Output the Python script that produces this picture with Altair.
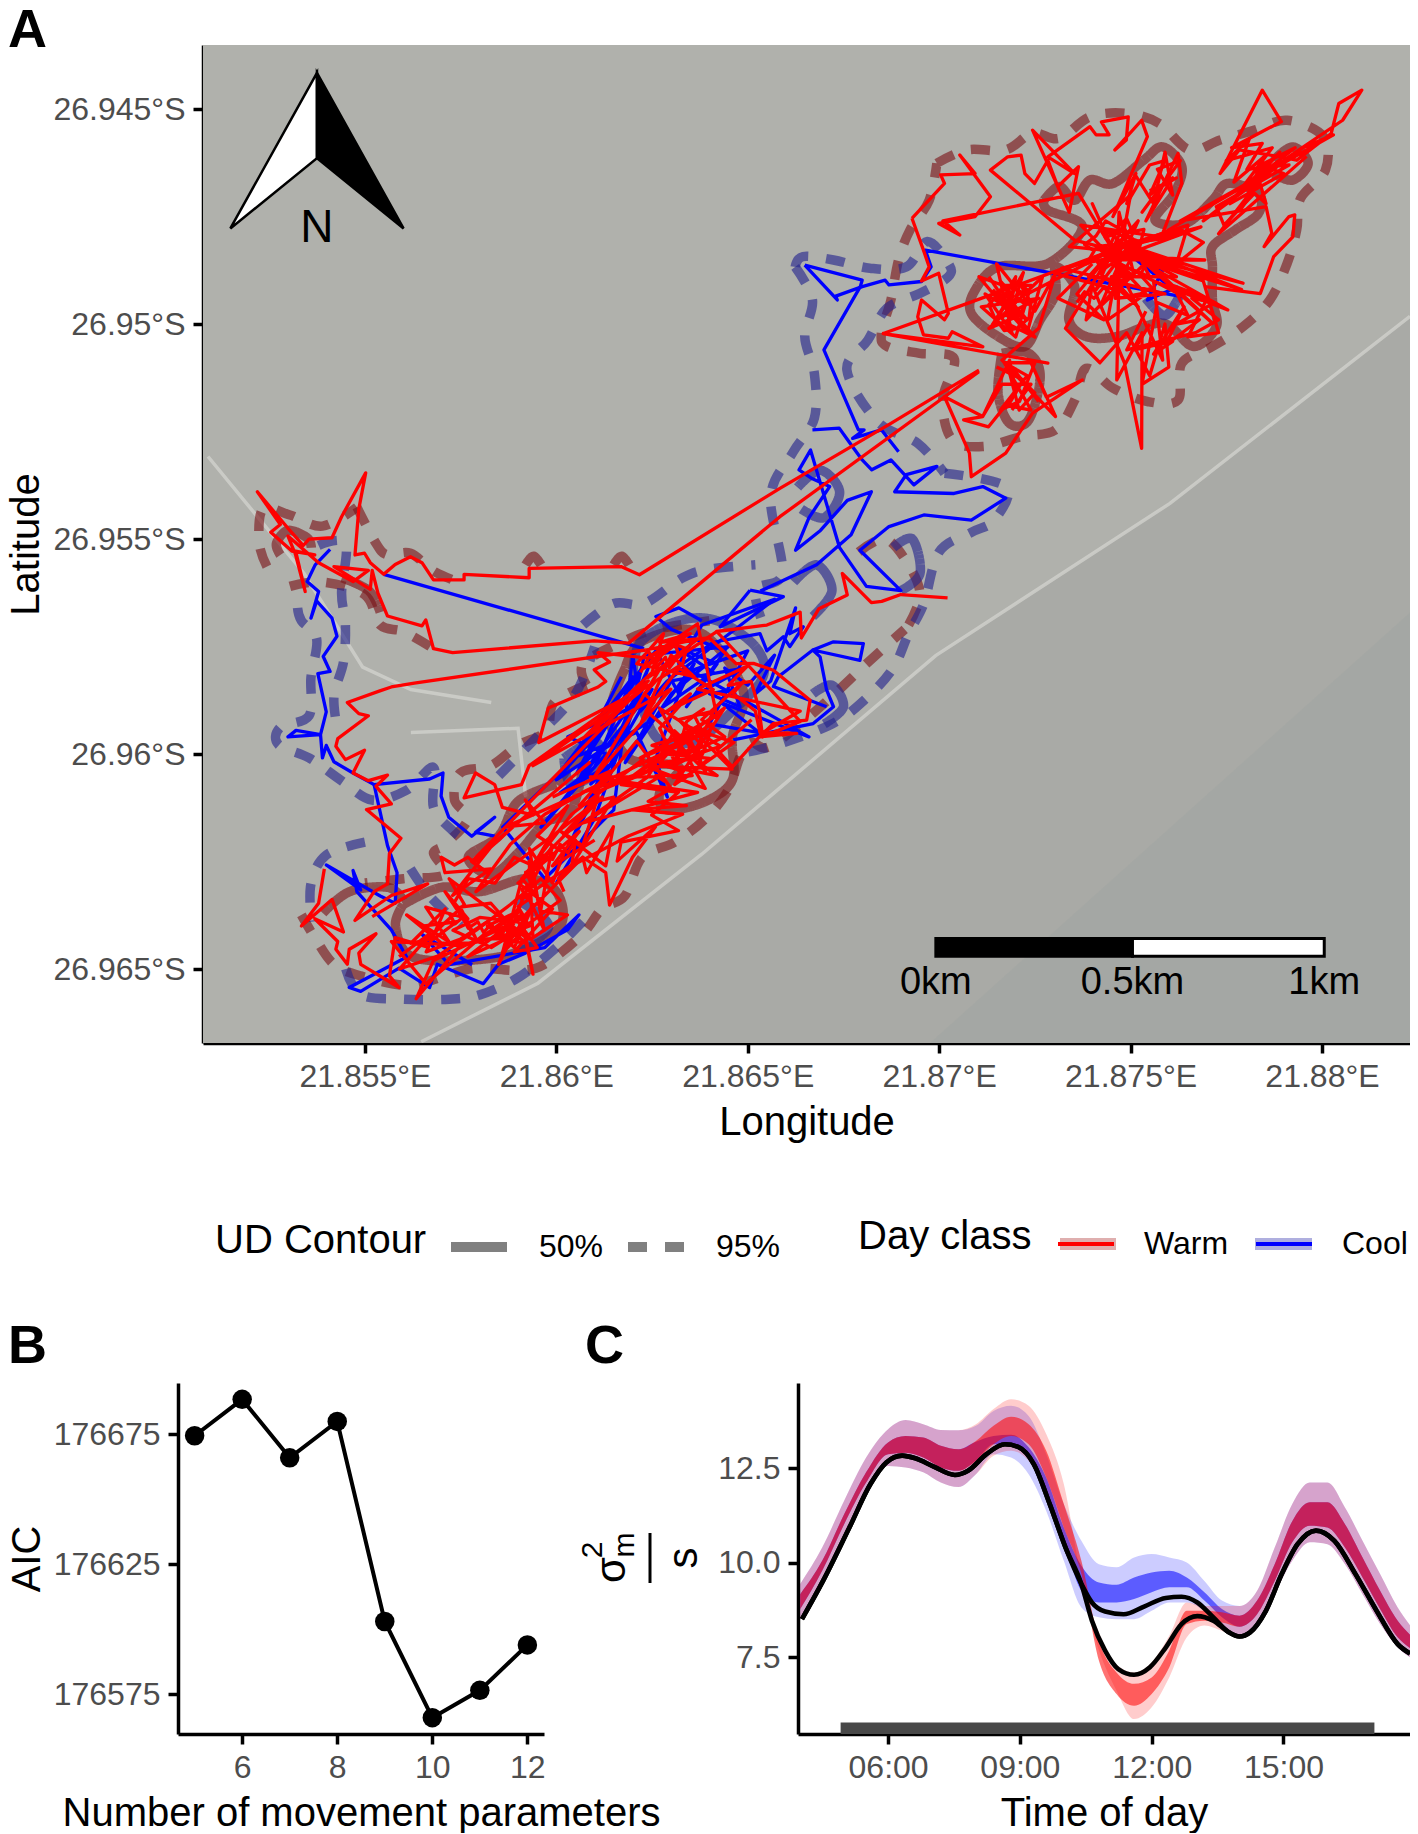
import altair as alt
import pandas as pd

FONT = "Liberation Sans"
LON0, LAT0 = 21.85, 26.94  # map values below are thousandths of a degree east of LON0 / south of LAT0

# ---------- map tracks ----------
warm_west = [(21.04,11.07),(18.74,12.31),(15.84,13.82),(12.17,15.83),(11.69,15.64),(9.29,15.68),(9.29,15.9),(7.59,15.82),(7.59,15.95),(6.79,15.95),(6.49,15.55),(6.19,15.41),(5.79,15.59),(5.49,15.82),(5.14,15.55),(4.99,15.33),(4.74,15.37),(4.84,14.3),(5.02,13.46),(4.39,14.48),(4.14,14.97),(3.54,15.0),(3.39,15.15),(2.99,14.75),(2.19,13.9),(2.79,14.66),(2.54,14.84),(3.09,15.28),(3.69,15.37),(3.19,15.28),(3.44,16.22),(3.19,15.37),(2.99,14.93),(3.79,15.55),(4.69,15.99),(5.09,15.73),(4.19,15.64),(5.14,16.17),(5.19,15.73),(5.34,16.26),(5.59,16.79),(6.49,17.02),(6.59,16.88),(6.79,17.55),(7.29,17.64),(10.99,17.37),(11.89,17.42),(15.84,14.48),(21.04,11.11)]
warm_mid = [(12.34,17.58),(11.09,17.73),(6.29,18.35),(5.69,18.44),(5.39,18.53),(4.54,18.8),(4.84,19.06),(5.09,19.11),(4.29,19.64),(4.24,19.82),(4.49,20.13),(4.99,19.91),(4.69,20.44),(5.09,20.62),(5.59,20.49),(5.29,20.75),(5.69,21.16),(5.04,21.29),(5.94,21.96),(5.64,22.31),(5.59,23.02),(5.24,23.2),(4.74,23.87),(5.69,23.29),(6.64,23.02),(5.19,23.78)]
warm_sw = [(3.94,22.67),(3.79,23.47),(3.34,24.0),(4.14,23.38),(4.44,24.14),(3.69,23.83),(4.29,24.36),(4.24,24.54),(4.54,24.89),(4.59,24.54),(5.29,24.18),(4.84,24.63),(4.89,24.89),(5.89,25.43),(5.64,25.16),(5.79,24.27),(6.69,24.5)]
warm_south = [(5.89,24.71),(6.69,24.18),(6.09,23.74),(7.19,24.36),(6.59,23.56),(7.69,23.83),(7.09,23.2),(7.89,24.27),(7.49,23.56),(8.29,23.47),(8.99,24.18),(7.69,24.71),(9.09,23.74),(9.39,25.12),(9.14,24.1),(8.69,24.54),(8.49,24.89),(9.19,23.2),(9.69,24.1),(9.29,22.49),(9.39,24.27),(10.29,23.74),(9.59,23.65),(9.89,22.14),(9.09,23.38),(10.69,22.4),(9.09,23.83),(6.79,24.8),(6.34,25.69),(7.49,24.45),(5.69,24.36),(6.59,25.34),(7.59,24.6),(8.1,24.2),(8.7,24.0),(9.3,24.3),(8.4,23.7),(7.2,22.9),(7.6,23.5),(7.0,24.0),(6.4,24.5),(5.9,25.0),(6.9,24.7),(7.9,24.1),(8.8,23.5),(9.6,22.9),(10.1,23.4),(9.2,24.0),(8.3,24.5),(7.3,24.1),(8.0,23.8),(9.0,23.9),(9.5,24.5),(8.9,24.6),(9.9,23.6),(9.0,23.0),(9.7,22.5),(10.6,21.8),(9.9,22.6),(11.0,22.0)]
warm_south2 = [(8.4,24.1),(8.9,23.7),(8.2,24.0),(8.8,24.3),(8.0,24.3),(8.6,23.9),(9.2,24.4),(8.5,24.3),(9.0,23.6),(9.3,24.0),(8.7,24.2),(7.8,24.4),(7.0,24.4),(6.5,24.0),(7.4,23.9),(6.8,24.3),(6.2,24.4),(7.1,23.6),(6.6,24.6),(7.5,24.3),(8.2,23.9),(8.9,24.5),(9.4,23.5),(8.6,24.6),(9.1,22.9),(9.5,23.3),(9.3,22.2),(9.9,23.0),(10.2,22.3),(9.5,21.9),(10.3,21.2),(9.4,22.6),(8.9,22.4),(8.4,23.0),(7.7,22.9),(7.3,23.5)]
warm_south3 = [(7.2,23.7),(7.35,23.95),(7.55,23.8),(7.7,24.05),(7.95,23.9),(8.1,24.15),(8.3,23.95),(8.45,24.2),(8.65,24.05),(8.85,24.25),(9.05,24.05),(9.2,23.85),(9.0,23.55),(9.25,23.4),(9.1,23.15),(9.35,23.0),(9.2,22.75),(9.5,22.65),(9.65,22.35),(9.9,22.45),(10.1,22.1),(10.3,22.3),(10.5,22.0),(10.4,22.6),(10.05,22.9),(10.2,23.2)]
warm_centre = [(12.34,17.58),(13.69,17.33),(12.39,18.22),(14.19,17.15),(12.69,18.04),(10.99,20.53),(12.99,18.49),(9.39,20.27),(12.39,18.4),(10.69,19.64),(11.69,18.75),(9.54,19.73),(9.79,18.93),(11.09,18.44),(11.29,18.31),(10.99,18.04),(11.39,17.86),(11.09,17.64),(12.39,17.77),(13.69,16.97),(14.19,19.11),(12.19,20.09),(13.99,19.46),(10.69,20.89),(14.29,19.82),(12.69,18.93),(13.89,20.8),(12.29,20.27),(14.59,20.35),(13.49,19.38),(14.64,19.73),(13.09,20.71),(14.39,18.93),(11.69,20.71),(13.19,20.89),(12.49,21.42),(13.19,21.78),(11.69,22.05),(11.59,22.49),(12.59,21.69),(11.99,22.4),(11.39,23.51),(11.29,22.76),(10.69,22.4),(10.79,22.76),(11.49,21.69),(11.29,22.6),(10.09,21.78),(10.69,22.13),(11.09,20.98),(10.19,21.87),(12.69,20.53),(10.89,20.53),(13.69,20.89),(10.69,21.6),(12.39,20.53),(13.09,19.46),(13.6,19.9),(12.9,20.0),(14.0,20.1),(13.3,20.6),(12.7,19.4),(13.5,18.6),(12.9,19.0),(14.1,18.5),(13.2,18.0),(12.6,18.7),(12.2,19.3),(13.0,17.7),(13.6,18.2),(12.1,17.9),(12.8,17.2),(12.5,18.1),(11.9,18.6)]
warm_centre2 = [(12.4,17.6),(12.6,17.9),(12.9,17.5),(12.3,18.0),(13.2,17.4),(12.5,17.7),(13.5,17.2),(12.7,17.4),(14.0,17.3),(14.7,17.9),(15.15,17.89),(15.67,18.05),(16.63,18.75),(16.54,19.21),(15.67,19.29),(15.32,19.6),(16.28,19.52),(15.32,19.5),(15.2,19.0),(14.62,18.59),(14.9,18.3),(13.8,19.2),(14.4,19.6),(13.4,20.0),(14.2,20.5),(13.0,20.3),(13.9,19.9),(13.2,19.2),(14.1,19.0),(13.5,20.2),(13.1,19.7),(13.9,20.4),(13.4,19.5),(12.7,20.2),(13.7,20.1),(12.5,19.8),(13.6,19.5),(11.9,20.6),(13.2,20.1),(11.0,20.9),(12.1,19.7),(13.0,20.8),(12.4,21.1),(13.4,21.2),(12.0,21.3),(13.3,21.4),(11.9,21.9),(10.4,22.6),(11.5,21.0),(10.6,21.2),(11.4,20.4),(9.9,21.0)]
warm_centre3 = [(12.2,18.1),(12.45,17.7),(12.6,18.0),(12.85,17.75),(12.95,18.0),(13.2,17.7),(13.1,17.45),(13.4,17.55),(13.3,17.9),(12.6,18.3),(12.3,18.6),(12.55,18.8),(12.35,19.0),(13.0,19.5),(13.25,19.8),(13.5,19.65),(13.45,20.0),(13.7,19.8),(13.75,20.15),(13.95,19.7),(14.05,19.3),(13.8,19.45),(13.6,19.1),(13.85,18.95),(13.4,19.25),(13.15,20.05),(12.95,20.3),(13.3,20.4),(13.05,20.55),(13.55,20.5),(12.6,20.5),(12.85,20.65)]
warm_diag = [(10.89,20.18),(8.39,22.05),(8.99,21.6),(7.89,22.49),(8.39,22.05),(7.29,23.29),(8.29,22.67),(7.09,22.76),(6.99,22.4),(7.34,22.58),(7.69,22.4),(8.19,22.76),(7.79,22.5),(12.4,18.3),(9.29,20.27),(9.09,20.71),(7.59,21.02),(7.89,20.44),(8.39,20.71),(8.59,21.24),(9.39,21.42),(9.19,21.07),(9.69,21.6),(8.69,21.69),(10.7,20.9),(9.7,21.4),(8.8,22.1),(7.9,23.2),(9.9,21.9),(11.2,21.0),(9.1,22.9),(10.4,21.4),(12.3,20.1)]
warm_east = [(20.22,16.37),(19.0,16.29),(18.5,16.45),(18.23,16.48),(17.47,15.8),(17.6,16.3),(16.86,16.62),(16.4,17.3),(16.37,16.7),(15.5,17.0),(14.19,17.15),(16.37,19.24),(15.39,19.6),(15.29,18.93),(15.09,18.31),(14.49,18.4),(15.0,17.95),(13.69,18.49),(16.37,19.0),(15.4,19.5),(14.6,20.3),(14.2,19.9),(15.1,19.2)]
warm_ne_a = [(19.29,7.54),(20.14,6.73),(20.04,6.53),(20.94,6.5),(20.54,6.07),(21.34,7.04),(20.94,7.5),(19.99,7.66),(20.54,7.93),(20.1,7.6),(23.64,6.96),(24.54,8.28),(23.54,8.05),(21.34,6.42),(21.79,6.11),(22.14,6.07),(22.24,6.5),(22.49,6.73),(22.84,6.19),(23.1,6.8),(23.64,6.34),(23.4,7.4),(22.44,5.49),(23.54,6.5),(22.84,6.11),(23.94,5.41),(24.1,5.6),(24.44,5.6),(24.24,5.3),(24.94,5.18),(24.89,5.72),(24.59,5.95),(25.29,5.26),(25.44,5.64),(24.54,7.5),(25.14,6.5),(24.9,7.2),(25.5,6.3),(25.9,6.2),(25.5,7.0),(26.1,6.6),(25.4,7.6),(26.24,6.03),(26.34,6.73),(25.84,7.89),(24.54,8.28)]
warm_ne_b = [(19.29,7.54),(19.59,8.28),(19.74,8.67),(19.54,9.0),(19.99,8.82),(20.24,9.75),(20.14,9.9),(19.54,9.44),(19.44,9.83),(19.59,10.25),(20.24,10.33),(20.34,10.18),(21.14,10.53),(18.54,10.22),(22.84,10.91),(18.54,10.22),(20.74,9.52),(24.54,8.28),(22.3,9.3),(21.04,8.9),(21.7,9.6),(21.4,10.0),(22.1,9.0),(21.6,9.2),(22.3,9.9),(21.2,9.3),(21.9,10.2),(21.5,8.6),(22.5,9.7),(23.04,8.82),(22.6,10.1),(21.64,10.84),(22.5,11.6),(22.09,12.0),(21.8,11.0),(23.04,12.15),(22.4,10.9),(22.8,11.7),(23.74,11.3),(22.44,12.07),(21.74,13.0),(20.84,13.55),(20.79,13.0),(20.14,11.69),(21.14,12.15),(20.64,12.23),(21.29,12.39),(22.0,11.6),(21.84,10.84),(21.14,12.15),(21.64,11.4),(22.4,11.4),(21.9,12.0)]
warm_ne_c = [(24.54,8.28),(27.94,9.05),(24.7,8.1),(27.9,9.2),(24.54,8.28),(26.84,7.74),(24.54,8.5),(26.94,8.51),(24.3,8.4),(26.24,9.29),(24.8,8.0),(27.14,9.98),(25.4,8.6),(27.54,9.67),(25.6,9.0),(25.84,10.84),(24.7,8.7),(24.64,11.3),(25.3,10.2),(25.29,12.89),(24.84,10.9),(24.0,9.1),(23.84,9.9),(24.6,9.2),(23.04,8.82),(24.54,8.28),(23.3,10.1),(24.2,10.9),(24.9,10.2),(25.5,11.2),(25.9,10.0),(26.0,11.0),(25.3,11.4),(25.7,9.5),(26.5,9.8),(26.1,9.1),(27.0,9.4),(26.5,10.3),(27.3,10.2),(26.9,9.0),(24.54,8.28),(25.84,7.89),(26.5,7.7),(26.2,8.6),(26.9,8.1),(26.3,7.8),(24.54,8.28),(23.6,9.3),(24.3,9.9),(23.1,9.4),(24.0,8.6)]
warm_ne_d = [(25.84,7.89),(28.24,6.65),(30.54,5.26),(31.04,4.56),(30.44,4.87),(30.24,5.57),(29.34,6.19),(28.84,6.1),(27.84,5.95),(27.34,6.5),(28.44,4.56),(28.94,5.29),(27.64,5.9),(28.44,5.8),(28.04,6.4),(29.14,6.3),(27.24,7.27),(27.44,7.7),(28.24,6.96),(28.54,7.2),(28.34,6.6),(26.9,7.6),(29.5,5.9),(30.3,5.6),(26.3,7.6),(28.54,7.27),(28.69,7.89),(28.49,8.2),(29.14,7.5),(29.29,7.46),(29.24,7.97),(28.74,8.43),(28.39,9.29),(26.94,9.13)]
warm_ne_e = [(24.54,8.28),(24.0,7.2),(24.9,9.0),(23.9,8.9),(25.2,7.6),(24.2,9.6),(25.6,8.4),(23.4,8.2),(25.0,7.0),(24.4,9.9),(25.4,9.3),(23.7,7.7),(26.0,8.0),(24.1,8.2),(25.1,8.9),(24.7,7.4),(24.6,9.4),(25.9,9.3),(23.2,8.7),(24.8,8.4),(25.3,8.1),(24.3,7.8),(25.7,8.7),(24.9,7.9),(24.2,8.8),(25.2,9.6),(24.5,8.9),(26.2,8.9),(25.0,8.3),(24.4,8.5),(25.5,8.9),(24.8,7.7),(24.1,9.2),(25.1,8.0)]
warm_ne_f = [(21.3,8.9),(21.9,9.7),(22.2,8.8),(21.5,9.9),(22.6,9.4),(21.1,9.6),(22.0,10.3),(22.4,9.1),(21.7,9.1),(22.1,9.8),(21.3,10.1),(22.7,8.9),(22.3,10.2),(21.6,9.5),(22.0,8.9),(21.8,10.0),(22.5,10.3),(21.4,9.2)]
warm_ne_g = [(25.5,10.0),(25.1,10.6),(26.1,10.4),(25.6,10.7),(26.4,9.6),(25.9,10.5),(26.8,9.9),(26.2,10.0),(27.2,9.5),(26.6,9.4),(27.3,9.9),(26.7,10.2),(24.9,10.6),(25.4,9.7)]
warm_ne_h = [(25.1,6.5),(25.6,7.2),(25.9,6.0),(26.1,7.0),(25.7,6.4),(26.3,6.2),(25.3,7.4),(25.8,6.8),(26.2,6.6),(25.5,6.9)]
warm_ne_i = [(28.3,6.6),(28.9,6.0),(28.0,6.8),(29.3,5.9),(28.4,6.3),(29.0,6.5),(27.6,7.2),(28.7,5.9),(27.5,6.2),(28.1,5.7),(27.7,6.7),(28.5,6.1),(27.9,7.3),(28.6,6.4),(27.3,7.9),(29.6,6.1)]
warm_ne_j = [(21.5,11.0),(22.2,11.3),(21.8,11.9),(22.4,12.0),(21.7,10.9),(22.5,10.9),(22.1,11.8),(21.6,12.0),(22.3,11.2),(21.9,11.0),(22.6,11.8)]
warm_ne_k = [(24.3,8.0),(24.6,7.9),(24.45,8.2),(24.8,8.15),(24.65,8.45),(25.0,8.5),(24.85,8.75),(24.5,8.6),(24.25,8.75),(24.1,8.5),(23.85,8.6),(24.05,8.3),(23.8,8.15),(24.1,7.95),(24.35,7.6),(24.65,7.75),(24.9,7.55),(25.05,7.85),(25.35,7.8),(25.2,8.35),(25.45,8.55),(25.25,8.85),(25.55,9.15),(25.25,9.3),(24.95,9.35),(24.75,9.15),(24.5,9.3),(24.3,9.15),(24.05,9.4),(23.8,9.25),(23.6,9.5)]
warm_ne_l = [(21.6,9.0),(21.85,9.25),(21.65,9.45),(21.95,9.55),(21.75,9.8),(22.05,9.85),(22.25,9.55),(22.0,9.35),(22.3,9.2),(22.1,9.05),(22.4,9.5),(22.35,9.85),(22.05,10.1),(21.7,10.15),(21.45,9.85),(21.3,9.55),(21.55,9.3)]
warm_tracks = [warm_west, warm_mid, warm_sw, warm_south, warm_south2, warm_south3, warm_centre, warm_centre2, warm_centre3, warm_diag, warm_east, warm_ne_a, warm_ne_b, warm_ne_c, warm_ne_d, warm_ne_e, warm_ne_f, warm_ne_g, warm_ne_h, warm_ne_i, warm_ne_j, warm_ne_k, warm_ne_l]

cool_ne = [(16.49,8.63),(17.34,9.44),(17.3,9.35),(17.99,9.13),(18.59,8.98),(18.69,9.09),(19.54,9.01),(19.79,8.67),(19.64,8.28),(26.34,9.36),(25.04,8.43),(25.84,8.74),(25.44,9.44),(26.24,9.13)]
cool_link = [(16.49,8.63),(17.99,8.98),(17.94,9.13),(16.99,10.6),(17.89,12.46),(18.04,12.46),(17.74,12.66),(18.49,12.46),(18.94,12.97)]
cool_east = [(16.69,12.46),(17.39,12.42),(17.64,12.73),(17.99,13.16),(18.24,13.39),(18.74,13.16),(19.34,13.74),(19.94,13.31),(19.14,13.5),(18.84,13.9),(20.39,13.94),(21.14,13.78),(21.74,14.05),(20.84,14.56),(19.6,14.44),(18.69,14.71),(17.93,15.26),(19.0,16.2),(18.1,16.1),(17.4,15.2),(16.64,12.93),(16.34,13.39),(16.69,13.6),(17.14,13.78),(16.6,14.5),(16.25,15.26),(16.9,14.8),(17.6,14.1),(18.23,13.9),(17.7,14.9),(16.8,15.6),(15.33,16.21)]
cool_east2 = [(14.62,19.67),(16.71,19.29),(17.24,18.9),(17.06,18.51),(16.89,17.74),(16.7,17.58),(17.93,17.82),(18.02,17.43),(17.24,17.39),(16.7,17.58),(16.02,18.05),(15.8,18.2),(15.67,18.43),(17.06,18.9)]
cool_east3 = [(15.06,16.19),(15.93,16.34),(14.28,17.04),(15.06,16.19)]
cool_east4 = [(13.3,17.9),(14.1,17.4),(15.32,17.2),(15.5,17.6),(15.93,17.27),(16.1,17.5),(16.45,17.04),(16.1,17.2),(16.25,16.6),(15.6,18.3),(15.2,18.6),(15.7,17.7),(15.0,18.4),(14.4,18.0),(14.8,18.9),(14.0,18.6),(14.6,18.5)]
cool_west = [(4.09,15.24),(3.7,15.6),(3.49,15.99),(3.79,16.22),(3.59,16.84),(3.74,16.44),(4.14,16.84),(4.27,17.26),(3.91,17.73),(4.09,18.08),(3.77,18.13),(3.99,19.02),(3.84,19.55),(3.2,19.45),(2.99,19.6),(3.84,19.55),(3.89,20.09),(3.99,19.8),(4.19,20.18),(4.69,20.44),(5.24,20.71),(6.69,20.58),(7.04,20.44),(6.99,20.98),(7.19,21.47),(7.79,21.91),(8.39,21.47),(7.89,21.82),(8.39,21.91)]
cool_link2 = [(5.49,15.82),(12.29,17.55)]
cool_sw = [(5.24,20.71),(5.59,22.13),(5.84,22.76),(5.79,23.47),(5.4,23.3),(3.99,22.58),(4.89,23.16),(4.69,22.71),(4.79,23.2),(5.69,24.09),(6.09,24.72),(4.59,25.43),(4.89,25.52),(5.89,24.98),(6.69,25.43),(6.89,24.89),(8.09,25.34),(8.49,24.89),(9.19,24.63),(10.29,24.09),(10.59,23.74),(9.7,24.5),(7.2,24.9),(6.5,24.2),(7.8,24.9)]
cool_centre = [(10.0,23.0),(11.0,21.5),(12.4,18.0),(10.2,22.4),(11.6,19.9),(12.5,18.5),(9.6,21.7),(11.3,20.0),(10.3,19.6),(12.0,18.9),(12.3,17.7),(14.5,17.5),(13.0,18.6),(11.8,20.2),(13.0,18.3),(14.9,18.0),(12.9,19.0),(11.2,19.9),(10.0,20.6),(11.5,19.1),(10.4,20.1),(12.1,19.5),(12.9,21.0),(12.6,20.1),(13.4,18.1),(15.0,17.6),(14.0,19.3),(15.3,19.5),(14.3,18.8),(16.6,19.6),(13.2,17.9),(13.8,17.0),(15.7,16.4),(12.9,18.3),(12.2,19.0),(12.0,17.7),(11.5,21.3),(9.7,22.9),(8.6,21.7),(10.7,19.9),(11.7,18.2)]
cool_centre2 = [(12.19,18.12),(10.53,20.45),(11.2,19.3),(10.6,20.6),(12.3,18.4),(11.7,19.6),(10.9,20.7),(11.5,20.2),(10.1,20.9),(11.0,20.3),(12.0,18.2),(10.2,20.3),(10.9,19.5),(12.6,17.6),(13.2,18.6),(13.6,17.9),(12.8,18.9),(14.1,18.1),(13.1,17.5),(14.2,17.9),(13.4,18.9),(14.4,17.6),(13.0,17.1),(12.6,16.8),(13.2,16.6),(13.8,16.9)]
cool_tracks = [cool_ne, cool_link, cool_east, cool_east2, cool_east3, cool_east4, cool_west, cool_link2, cool_sw, cool_centre, cool_centre2]

# ---------- utilisation distribution contours ----------
warm_95 = [
 [(2.44,15.64),(2.24,15.1),(2.34,14.3),(3.04,14.44),(3.89,14.7),(4.79,14.26)],
 [(4.79,14.26),(5.29,15.1),(5.59,15.37),(6.19,15.33),(6.84,15.77),(7.69,16.08)],
 [(3.04,16.1),(3.9,16.0),(5.0,16.3),(5.4,17.0),(6.0,17.15),(6.7,17.5)],
 [(10.79,18.4),(10.7,17.9),(11.7,17.4),(12.6,17.1),(14.0,16.9)],
 [(10.79,18.4),(9.94,18.8),(9.74,19.46),(9.0,19.8),(8.29,20.27),(7.49,20.44),(7.34,21.07),(7.69,21.51),(7.1,22.1),(6.79,22.31),(7.09,22.8),(6.0,22.9),(5.0,23.0)],
 [(3.34,23.74),(3.69,24.27),(4.19,24.89),(4.89,25.16),(6.14,25.38),(7.09,25.16),(7.89,24.98),(8.99,25.03),(9.69,24.89),(10.69,24.18),(11.19,23.6),(11.79,23.3),(12.24,22.4),(13.09,22.05),(13.89,21.51),(14.49,20.84),(14.79,20.09),(15.09,19.73),(15.59,19.82),(16.9,18.9),(18.1,17.9),(19.1,17.1)],
 [(17.9,15.3),(18.6,15.0),(19.2,15.6),(19.5,16.3),(19.2,17.0)],
 [(19.94,6.26),(20.74,5.95),(21.74,5.95),(22.44,5.56),(23.14,5.68),(23.94,5.18),(24.89,5.1),(25.74,5.33),(26.54,5.95),(27.34,5.72),(28.24,5.49),(29.09,5.26),(30.04,5.64),(30.09,6.42),(29.44,7.08),(29.34,7.81),(29.09,8.59),(28.64,9.44),(27.94,10.06),(27.14,10.52),(26.34,10.91),(26.24,11.77),(25.44,11.8),(24.54,11.49),(23.84,11.03),(23.54,11.77),(23.04,12.46),(22.14,12.62),(21.14,12.85),(20.34,12.69),(20.09,11.77),(20.39,10.8),(19.49,10.68),(18.64,10.52),(18.49,10.22),(18.74,9.44),(18.94,8.51),(19.24,7.81),(19.74,7.12),(19.94,6.26)],
]
warm_50 = [
 [(2.79,15.37),(2.69,15.1),(2.99,14.8),(3.49,14.97),(3.6,15.2)],
 [(4.4,15.9),(5.1,16.2),(5.4,16.7)],
 [(9.2,15.6),(9.4,15.4),(9.6,15.6)],
 [(11.5,15.6),(11.7,15.4),(11.9,15.6)],
 [(11.8,18.0),(12.2,17.4),(13.4,17.1),(14.2,17.5),(14.9,18.6),(14.6,19.6),(14.6,20.6),(13.9,21.1),(12.9,21.3),(12.7,20.9),(13.2,20.3),(11.9,20.1),(11.4,19.1),(11.8,18.0)],
 [(10.0,20.7),(10.7,20.0),(10.4,21.3),(9.7,21.6),(9.0,22.3),(8.3,22.8),(7.7,22.4),(8.5,21.9),(9.0,21.1),(10.0,20.7)],
 [(6.0,23.5),(7.0,23.1),(8.0,23.2),(9.2,22.9),(10.0,23.2),(10.1,24.0),(9.0,24.6),(7.6,24.8),(6.2,24.7),(5.8,24.0),(6.0,23.5)],
 [(3.9,23.7),(4.6,23.2),(5.6,23.1),(6.0,23.4)],
 [(22.74,7.12),(23.14,6.8),(23.54,7.12),(23.94,6.65),(24.54,6.73),(25.34,6.19),(25.84,5.88),(26.34,6.34),(26.14,6.96),(25.64,7.58),(26.44,7.66),(27.14,7.12),(27.54,6.73),(28.34,6.96),(28.34,7.43),(27.74,7.81),(27.14,8.2),(27.14,8.67),(27.14,9.44),(27.24,10.06),(26.64,10.52),(25.84,9.98),(24.64,10.29),(23.84,10.29),(23.39,9.9),(23.54,9.13),(23.04,8.67),(23.04,9.29),(22.64,9.9),(22.24,10.52),(21.54,10.29),(20.84,9.75),(20.94,9.21),(21.54,8.67),(22.84,8.59),(23.74,7.74),(22.84,7.35),(22.74,7.12)],
 [(21.64,10.68),(22.34,10.68),(22.64,11.22),(22.34,12.23),(21.84,12.31),(21.54,11.61),(21.64,10.68)],
 [(28.74,6.19),(29.24,5.88),(29.64,6.26),(29.24,6.65),(28.74,6.5)],
]
cool_95 = [
 [(16.24,8.67),(16.44,8.43),(17.24,8.51),(18.19,8.7),(19.14,8.67),(19.69,8.08),(20.24,8.59),(20.24,8.9),(19.49,9.29),(18.64,9.63),(18.14,10.37),(17.59,11.07),(18.39,12.27),(19.44,12.77),(20.14,13.47)],
 [(16.24,8.67),(16.69,9.44),(16.49,10.29),(16.74,11.15),(16.74,12.19),(16.19,12.97),(15.6,14.0),(15.9,15.8),(15.2,16.2),(15.5,17.2)],
 [(20.14,13.47),(21.74,13.78),(21.44,14.56),(20.83,14.85),(20.0,15.3),(19.6,16.5),(19.2,17.2),(18.8,18.0),(18.1,18.7),(17.2,19.3),(15.7,19.8),(14.7,20.0)],
 [(3.24,16.6),(3.34,16.9),(3.74,17.33),(3.59,18.22),(3.54,19.11),(2.79,19.38),(2.74,19.78),(3.54,20.09),(4.39,20.62),(5.19,21.07),(6.09,20.84),(6.79,20.31),(6.79,21.24),(7.29,21.78),(7.69,22.05)],
 [(3.79,15.15),(4.49,15.1),(4.39,16.26),(4.49,16.97),(4.44,17.86),(4.19,18.66),(4.29,19.46)],
 [(5.0,22.05),(3.99,22.35),(3.59,23.02),(3.6,23.9)],
 [(6.19,22.67),(6.69,23.3),(7.5,24.0)],
 [(4.5,25.0),(4.9,25.6),(6.0,25.7),(7.2,25.7),(8.0,25.6),(9.0,25.2),(10.0,24.5),(10.9,23.7)],
 [(10.7,17.0),(11.5,16.5),(12.3,16.5),(13.3,15.9),(14.0,15.7),(15.2,15.6)],
 [(8.5,20.5),(9.6,19.5),(10.5,18.6),(11.0,17.5)],
]
cool_50 = [
 [(12.0,18.2),(12.2,17.4),(13.2,16.9),(14.2,16.9),(15.2,17.5),(15.4,18.2),(14.6,19.0),(13.6,19.7),(12.6,19.6),(12.0,18.2)],
 [(10.2,20.1),(11.0,19.7),(11.2,20.3),(10.4,20.7),(10.2,20.1)],
 [(16.3,13.8),(16.9,13.4),(17.4,13.9),(17.0,14.5),(16.4,14.3)],
 [(18.8,15.2),(19.3,15.0),(19.5,15.8),(19.0,16.2)],
 [(16.2,16.0),(16.8,15.6),(17.2,16.2),(16.7,16.8)],
 [(25.4,9.4),(25.9,9.8),(26.3,9.3)],
 [(9.0,23.4),(9.8,24.0),(9.0,24.6)],
 [(16.7,18.6),(17.2,18.4),(17.5,18.9),(17.0,19.3)],
]

# ---------- map furniture ----------
roads = [
 [(32.3,9.82),(26.03,14.17),(19.91,17.71),(13.8,22.33),(9.52,25.33),(6.47,26.69)],
 [(0.9,13.08),(3.41,15.8),(4.94,17.98),(6.2,18.5),(8.3,18.8)],
 [(6.2,19.5),(9.0,19.4),(9.2,21.0)],
]
shade_x = [19.76, 23.05, 31.5, 32.3]
shade_y = [26.72, 24.09, 17.35, 16.71]
map_x_ticks = [21.855, 21.86, 21.865, 21.87, 21.875, 21.88]
map_y_ticks = [26.945, 26.95, 26.955, 26.96, 26.965]
map_x_domain = [21.85077, 21.88230]
map_y_domain = [26.96672, 26.94351]
arrow_x = [3.747, 1.485, 6.009]       # apex, left tip, right tip
arrow_y = [4.156, 7.776, 6.143]       # apex, tips, notch
bar_breaks = [19.914, 25.05, 30.06]
bar_y = [24.29, 24.70, 25.33]
bar_labels = ["0km", "0.5km", "1km"]

# ---------- panel B ----------
n_params = [5, 6, 7, 8, 9, 10, 11, 12]
aic = [176674.5, 176688.5, 176666, 176680, 176603, 176566, 176576.5, 176594]

# ---------- panel C ----------
hours = [4.0,4.5,5.0,5.5,6.0,6.4,6.8,7.2,7.6,8.0,8.4,8.8,9.2,9.6,10.0,10.4,10.8,11.2,11.6,12.0,12.4,12.8,13.2,13.6,14.0,14.4,14.8,15.2,15.6,16.0,16.4,16.8,17.2,17.6,17.88]
warm_hi = [9.44,10.4,11.64,12.78,13.53,13.77,13.66,13.51,13.5,13.66,14.06,14.32,14.15,13.4,12.08,9.61,8.16,7.32,7.1,7.37,8.07,8.95,8.86,8.86,8.86,9.26,10.4,11.55,12.12,12.12,11.46,10.58,9.7,8.82,8.35]
warm_lo = [8.51,9.48,10.67,11.86,12.56,12.52,12.39,12.12,12.0,12.34,12.83,12.96,12.69,11.73,10.4,9.26,7.68,6.62,5.87,6.18,6.97,8.03,8.34,8.2,8.03,8.29,9.17,10.05,10.54,10.49,9.96,9.17,8.38,7.76,7.5]
warm_in_hi = [9.17,10.05,11.28,12.39,13.18,13.35,13.31,13.09,13.0,13.22,13.62,13.86,13.66,12.96,11.55,10.05,7.94,7.1,6.8,6.97,7.68,8.73,8.73,8.69,8.6,9.0,9.96,11.1,11.6,11.6,11.02,10.14,9.26,8.47,8.1]
warm_in_lo = [8.78,9.79,11.02,12.12,12.87,12.91,12.78,12.52,12.43,12.69,13.13,13.35,13.13,12.25,10.93,9.7,7.41,6.53,6.22,6.53,7.23,8.38,8.47,8.42,8.31,8.64,9.52,10.54,10.98,10.93,10.4,9.61,8.78,8.03,7.75]
cool_hi = [9.44,10.4,11.64,12.78,13.53,13.77,13.66,13.51,13.5,13.62,14.01,14.15,13.88,12.87,11.55,10.58,9.96,9.88,10.14,10.23,10.14,10.01,9.52,9.0,8.86,9.26,10.4,11.55,12.12,12.12,11.46,10.58,9.7,8.82,8.35]
cool_lo = [8.51,9.48,10.67,11.86,12.56,12.52,12.39,12.12,12.0,12.34,12.87,12.78,12.34,11.37,10.05,8.82,8.56,8.51,8.51,8.73,8.95,8.95,8.73,8.38,8.03,8.29,9.17,10.05,10.54,10.49,9.96,9.17,8.38,7.76,7.5]
cool_in_hi = [9.17,10.05,11.28,12.39,13.18,13.35,13.31,13.09,13.0,13.2,13.35,13.38,13.05,12.25,10.93,9.92,9.48,9.42,9.61,9.74,9.79,9.61,9.22,8.78,8.6,9.0,9.96,11.1,11.6,11.6,11.02,10.14,9.26,8.47,8.1]
cool_in_lo = [8.78,9.79,11.02,12.12,12.87,12.91,12.78,12.52,12.43,12.7,13.13,13.13,12.78,11.9,10.58,9.26,8.95,8.95,9.04,9.22,9.35,9.35,9.0,8.56,8.31,8.64,9.52,10.54,10.98,10.93,10.4,9.61,8.78,8.03,7.75]
fit_shared_h = [4.04,4.52,5.12,5.6,5.96,6.32,6.62,7.04,7.52,7.82,8.24,8.66,8.96,9.32,9.68,10.04,10.4]
fit_shared_v = [8.51,9.52,10.93,12.08,12.65,12.83,12.76,12.54,12.32,12.43,12.87,13.13,13.06,12.6,11.55,10.4,9.44]
fit_cool_h = [10.64,10.94,11.36,11.84,12.32,12.68,13.04,13.4,13.76,14.0]
fit_cool_v = [8.95,8.71,8.64,8.85,9.07,9.1,8.95,8.56,8.16,8.05]
fit_warm_h = [10.64,10.94,11.24,11.6,11.96,12.32,12.68,13.04,13.4,13.76,14.0]
fit_warm_v = [8.47,7.68,7.19,7.04,7.24,7.76,8.38,8.59,8.47,8.16,8.05]
fit_tail_h = [14.24,14.6,14.96,15.32,15.74,16.16,16.64,17.12,17.6,17.88]
fit_tail_v = [8.16,8.73,9.7,10.49,10.85,10.58,9.7,8.73,7.85,7.6]
rug_span = [4.92, 17.07]
rug_y = [5.475, 5.78]


def track_frame(segments, **extra):
    rows = []
    for s, seg in enumerate(segments):
        for i, (x, y) in enumerate(seg):
            rows.append({"lon": LON0 + x / 1000, "lat": LAT0 + y / 1000, "seg": s, "i": i, **extra})
    return pd.DataFrame(rows)


X = alt.X("lon:Q", scale=alt.Scale(domain=map_x_domain, nice=False, zero=False),
          axis=alt.Axis(values=map_x_ticks, title="Longitude",
                        labelExpr="format(datum.value,'.3~f')+'°E'", titlePadding=10))
Y = alt.Y("lat:Q", scale=alt.Scale(domain=map_y_domain, nice=False, zero=False),
          axis=alt.Axis(values=map_y_ticks, title="Latitude",
                        labelExpr="format(datum.value,'.3~f')+'°S'", titlePadding=6))

bg_df = pd.DataFrame({"lon": [map_x_domain[0]], "lon2": [map_x_domain[1]], "lat": [map_y_domain[0]], "lat2": [map_y_domain[1]]})
bg = alt.Chart(bg_df).mark_rect(color="#b0b1ac").encode(x=X, x2="lon2:Q", y=Y, y2="lat2:Q")

road_line = roads[0]
road_band = pd.DataFrame({"lon": [LON0 + p[0] / 1000 for p in road_line],
                          "lat": [LAT0 + p[1] / 1000 for p in road_line],
                          "bot": [map_y_domain[0]] * len(road_line)})
below_road = alt.Chart(road_band).mark_area(color="#8f918f", opacity=0.2, clip=True).encode(
    x=alt.X("lon:Q"), y=alt.Y("lat:Q"), y2="bot:Q")
shade_df = pd.DataFrame({"lon": [LON0 + v / 1000 for v in shade_x], "lat": [LAT0 + v / 1000 for v in shade_y],
                         "bot": [map_y_domain[0]] * len(shade_x)})
shade = alt.Chart(shade_df).mark_area(color="#8f979c", opacity=0.15, clip=True).encode(
    x=alt.X("lon:Q"), y=alt.Y("lat:Q"), y2="bot:Q")
road = alt.Chart(track_frame(roads)).mark_line(color="#d6d6d2", strokeWidth=3.5, opacity=0.7, clip=True).encode(
    x=alt.X("lon:Q"), y=alt.Y("lat:Q"), detail="seg:N", order="i:Q")

dash_scale = alt.Scale(domain=["50%", "95%"], range=[[1, 0], [19, 18]])
dash_legend = alt.Legend(title="UD Contour", orient="none", legendX=37, legendY=1169, direction="horizontal",
                         titleOrient="left", titleBaseline="middle", titleAnchor="middle", columns=2, symbolType="stroke", symbolStrokeColor="#808080",
                         symbolSize=3136, symbolStrokeWidth=10, labelOffset=27, titlePadding=19, columnPadding=4,
                         symbolOpacity=1, titleLimit=400)
day_scale = alt.Scale(domain=["Warm", "Cool"], range=["#ff0000", "#0000ff"])
day_legend = alt.Legend(title="Day class", orient="none", legendX=680, legendY=1169, direction="horizontal",
                        titleOrient="left", titleBaseline="middle", titleAnchor="middle", columns=2, symbolType="stroke", symbolSize=3136, symbolStrokeWidth=4,
                        labelOffset=28, titlePadding=24, columnPadding=19, titleLimit=400)


def contour(segs, level, colour):
    df = track_frame(segs, level=level)
    return alt.Chart(df).mark_line(color=colour, strokeWidth=9.5, opacity=0.62, strokeCap="butt", interpolate="cardinal").encode(
        x=alt.X("lon:Q"), y=alt.Y("lat:Q"), detail="seg:N", order="i:Q",
        strokeDash=alt.StrokeDash("level:N", scale=dash_scale, legend=dash_legend))


def tracks(segs, day):
    df = track_frame(segs, day=day)
    return alt.Chart(df).mark_line(strokeWidth=3.3, strokeJoin="round").encode(
        x=alt.X("lon:Q"), y=alt.Y("lat:Q"), detail="seg:N", order="i:Q",
        color=alt.Color("day:N", scale=day_scale, legend=day_legend))


arrow_l = alt.Chart(pd.DataFrame({"lon": [LON0 + arrow_x[1] / 1000, LON0 + arrow_x[0] / 1000],
                                  "a": [LAT0 + arrow_y[1] / 1000, LAT0 + arrow_y[0] / 1000],
                                  "b": [LAT0 + arrow_y[1] / 1000, LAT0 + arrow_y[2] / 1000]})).mark_area(
    color="white", stroke="black", strokeWidth=2.5, opacity=1).encode(
    x=alt.X("lon:Q"), y=alt.Y("a:Q"), y2="b:Q")
arrow_r = alt.Chart(pd.DataFrame({"lon": [LON0 + arrow_x[0] / 1000, LON0 + arrow_x[2] / 1000],
                                  "a": [LAT0 + arrow_y[0] / 1000, LAT0 + arrow_y[1] / 1000],
                                  "b": [LAT0 + arrow_y[2] / 1000, LAT0 + arrow_y[1] / 1000]})).mark_area(
    color="black", stroke="black", strokeWidth=2.5).encode(
    x=alt.X("lon:Q"), y=alt.Y("a:Q"), y2="b:Q")
north = alt.Chart(pd.DataFrame({"lon": [LON0 + arrow_x[0] / 1000], "lat": [LAT0 + arrow_y[1] / 1000], "t": ["N"]})).mark_text(
    fontSize=46, font=FONT, color="black", align="center", baseline="middle").encode(
    x=alt.X("lon:Q"), y=alt.Y("lat:Q"), text="t:N")

bar_df = pd.DataFrame({"lon": [LON0 + bar_breaks[0] / 1000, LON0 + bar_breaks[1] / 1000],
                       "lon2": [LON0 + bar_breaks[1] / 1000, LON0 + bar_breaks[2] / 1000],
                       "lat": [LAT0 + bar_y[0] / 1000] * 2, "lat2": [LAT0 + bar_y[1] / 1000] * 2,
                       "c": ["black", "white"]})
bar = alt.Chart(bar_df).mark_rect(stroke="black", strokeWidth=3).encode(
    x=alt.X("lon:Q"), x2="lon2:Q", y=alt.Y("lat:Q"), y2="lat2:Q", fill=alt.Fill("c:N", scale=None))
bar_text = alt.Chart(pd.DataFrame({"lon": [LON0 + v / 1000 for v in bar_breaks], "lat": [LAT0 + bar_y[2] / 1000] * 3,
                                   "t": bar_labels})).mark_text(fontSize=38, font=FONT, color="black", align="center", baseline="middle").encode(
    x=alt.X("lon:Q"), y=alt.Y("lat:Q"), text="t:N")


def letter(t, px, py):
    return alt.Chart(pd.DataFrame({"t": [t]})).mark_text(fontSize=54, fontWeight="bold", font=FONT, color="black",
                                                         align="left", baseline="alphabetic").encode(
        x=alt.value(px), y=alt.value(py), text="t:N")


def key_band(px, px2, colour):
    return alt.Chart(pd.DataFrame({"t": [1]})).mark_rect(color=colour, opacity=0.5).encode(
        x=alt.value(px), x2=alt.value(px2), y=alt.value(1193), y2=alt.value(1205))


map_panel = alt.layer(
    bg, below_road, shade, road,
    contour(warm_95, "95%", "#7a1418"), contour(warm_50, "50%", "#7a1418"),
    contour(cool_95, "95%", "#24248e"), contour(cool_50, "50%", "#24248e"),
    tracks(cool_tracks, "Cool"), tracks(warm_tracks, "Warm"),
    arrow_l, arrow_r, north, bar, bar_text, letter("A", -195, 2),
    key_band(857, 913, "#c06060"), key_band(1052, 1109, "#6060c0"),
).properties(width=1207, height=998)

# panel B
b_df = pd.DataFrame({"n": n_params, "aic": aic})
bx = alt.X("n:Q", scale=alt.Scale(domain=[4.65, 12.35], nice=False, zero=False),
           axis=alt.Axis(values=[6, 8, 10, 12], title="Number of movement parameters", format="d", titlePadding=10))
by = alt.Y("aic:Q", scale=alt.Scale(domain=[176559.7, 176694.8], nice=False, zero=False),
           axis=alt.Axis(values=[176575, 176625, 176675], title="AIC", format="d", titlePadding=6))
panel_b = alt.layer(
    alt.Chart(b_df).mark_line(color="black", strokeWidth=4).encode(x=bx, y=by),
    alt.Chart(b_df).mark_circle(color="black", size=380, opacity=1).encode(x=bx, y=by),
    letter("B", -170, -20),
).properties(width=366, height=351)

# panel C
cx = alt.X("h:Q", scale=alt.Scale(domain=[3.95, 17.88], nice=False, zero=False),
           axis=alt.Axis(values=[6, 9, 12, 15], title="Time of day", titlePadding=10,
                         labelExpr="(datum.value<10?'0':'')+datum.value+':00'"))
cy = alt.Y("lo:Q", scale=alt.Scale(domain=[5.475, 14.75], nice=False, zero=False),
           axis=alt.Axis(values=[7.5, 10, 12.5], title=None, format=".1f"))


def ribbon(lo, hi, colour, alpha):
    df = pd.DataFrame({"h": hours, "lo": lo, "hi": hi})
    return alt.Chart(df).mark_area(color=colour, opacity=alpha, interpolate="monotone").encode(
        x=cx, y=cy, y2="hi:Q")


def fit(hs, vs):
    df = pd.DataFrame({"h": hs, "lo": vs})
    return alt.Chart(df).mark_line(color="black", strokeWidth=4.6, interpolate="monotone").encode(x=cx, y=cy)


rug = alt.Chart(pd.DataFrame({"h": [rug_span[0]], "h2": [rug_span[1]], "lo": [rug_y[0]], "hi": [rug_y[1]]})).mark_rect(
    color="#484848").encode(x=cx, x2="h2:Q", y=cy, y2="hi:Q")


def label(t, px, py, size, angle=270):
    return alt.Chart(pd.DataFrame({"t": [t]})).mark_text(fontSize=size, font=FONT, color="black", angle=angle,
                                                         align="center", baseline="middle").encode(
        x=alt.value(px), y=alt.value(py), text="t:N")


frac_bar = alt.Chart(pd.DataFrame({"t": [1]})).mark_rule(color="black", strokeWidth=3).encode(
    x=alt.value(-148), y=alt.value(150), y2=alt.value(200))

panel_c = alt.layer(
    ribbon(cool_lo, cool_hi, "#0000ff", 0.2), ribbon(cool_in_lo, cool_in_hi, "#0000ff", 0.55),
    ribbon(warm_lo, warm_hi, "#ff0000", 0.2), ribbon(warm_in_lo, warm_in_hi, "#ff0000", 0.55),
    fit(fit_shared_h + fit_cool_h + fit_tail_h, fit_shared_v + fit_cool_v + fit_tail_v),
    fit(fit_shared_h + fit_warm_h + fit_tail_h, fit_shared_v + fit_warm_v + fit_tail_v),
    rug,
    label("σ", -186, 187, 42), label("2", -205, 167, 30), label("m", -173, 162, 30), frac_bar, label("s", -114, 175, 42),
    letter("C", -213, -20),
).properties(width=612, height=351)

spacer = alt.Chart(pd.DataFrame({"a": [0]})).mark_point(opacity=0, size=1).encode(
    x=alt.value(0), y=alt.value(0)).properties(width=25, height=10)

top = alt.hconcat(spacer, map_panel, spacing=0, bounds="flush")
bottom = alt.hconcat(panel_b, panel_c, spacing=254, bounds="flush")
chart = alt.vconcat(top, bottom, spacing=1338, bounds="flush").properties(
    padding={"left": -2, "top": -4, "right": -10, "bottom": 0}
).configure_view(stroke=None).configure_axis(
    labelFont=FONT, titleFont=FONT, labelFontSize=32, titleFontSize=40, labelColor="#4d4d4d", titleColor="black",
    titleFontWeight="normal", domainColor="black", domainWidth=3.5, tickColor="black", tickWidth=3.5, tickSize=10,
    grid=False, labelPadding=8, labelOverlap=False, labelFlush=False
).configure_legend(
    labelFont=FONT, titleFont=FONT, labelFontSize=32, titleFontSize=40, titleFontWeight="normal", labelColor="black"
)

chart.save("out.html", embed_options={"renderer": "svg", "actions": False})
